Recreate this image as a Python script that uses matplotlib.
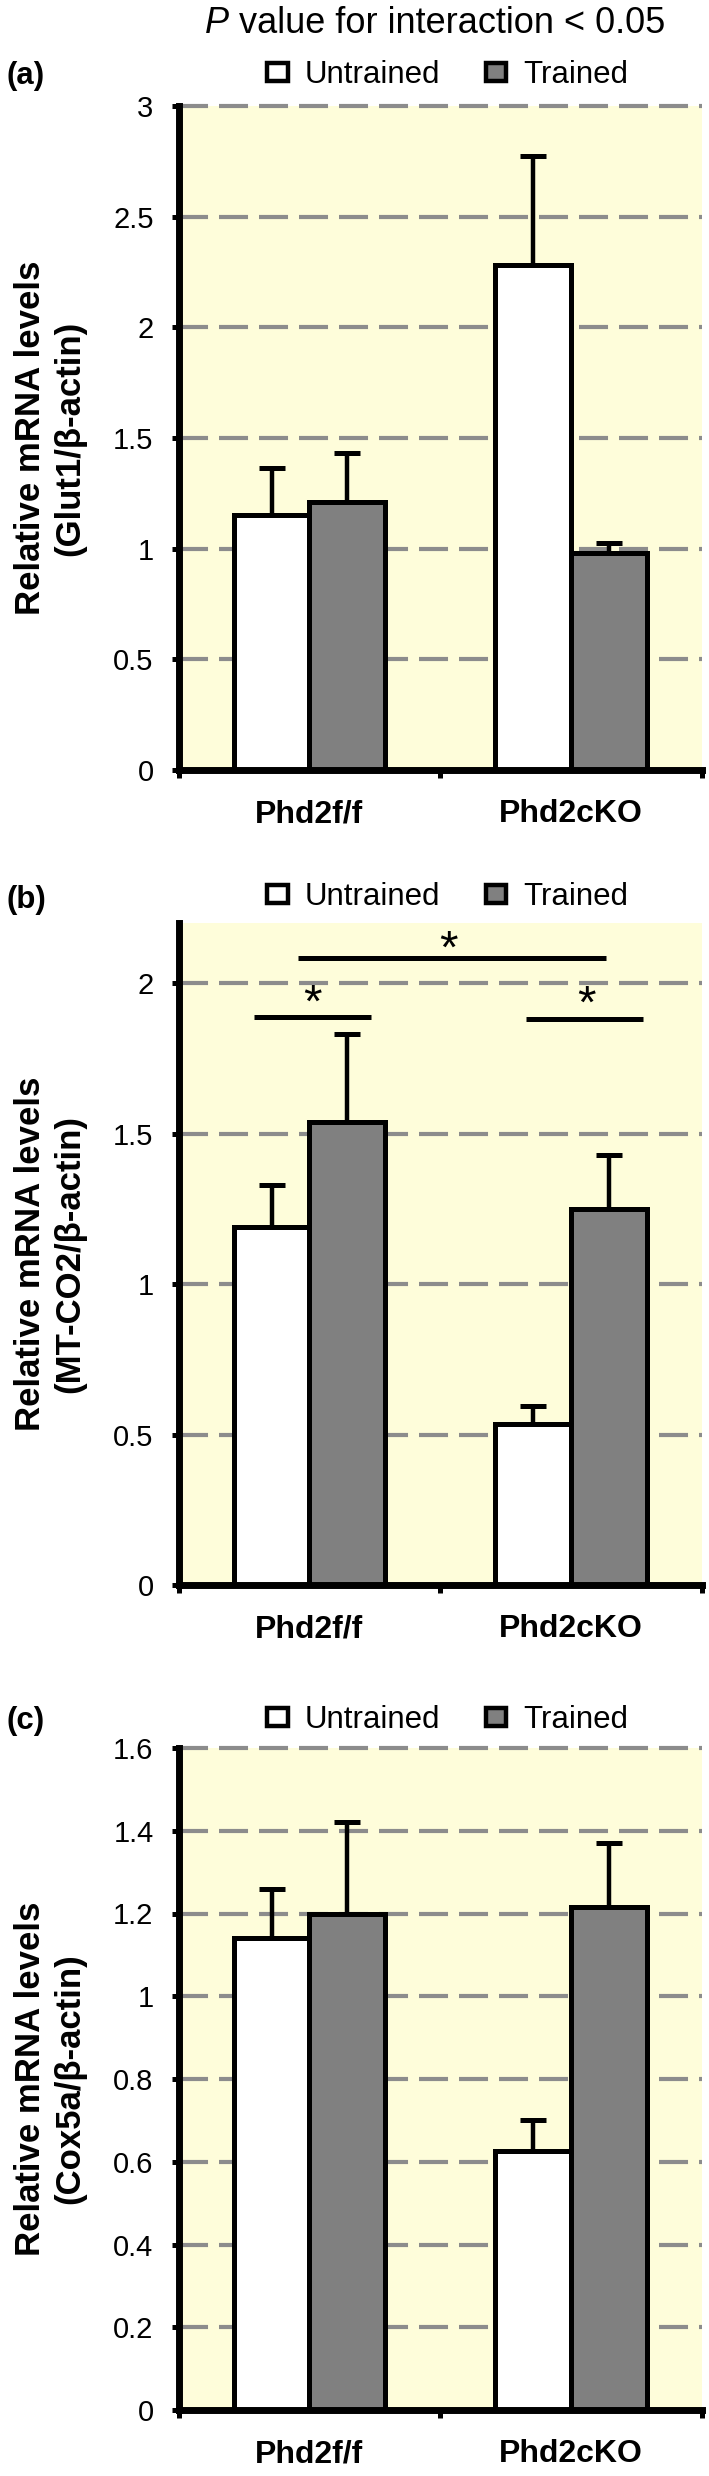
import matplotlib
matplotlib.use("Agg")
import matplotlib.pyplot as plt
from matplotlib.ticker import FuncFormatter
from matplotlib.patches import Patch

plt.rcParams['font.family'] = ['Liberation Sans', 'DejaVu Sans']

# ---------------- data ----------------
groups = ['Phd2f/f', 'Phd2cKO']
series_names = ['Untrained', 'Trained']

glut1_untrained = [1.15, 2.28]
glut1_untrained_err = [0.215, 0.495]
glut1_trained = [1.21, 0.98]
glut1_trained_err = [0.22, 0.045]

mtco2_untrained = [1.19, 0.535]
mtco2_untrained_err = [0.14, 0.06]
mtco2_trained = [1.54, 1.25]
mtco2_trained_err = [0.29, 0.18]

cox5a_untrained = [1.14, 0.625]
cox5a_untrained_err = [0.12, 0.077]
cox5a_trained = [1.20, 1.215]
cox5a_trained_err = [0.22, 0.155]

ylabels = ['Relative mRNA levels\n(Glut1/\u03b2-actin)',
           'Relative mRNA levels\n(MT-CO2/\u03b2-actin)',
           'Relative mRNA levels\n(Cox5a/\u03b2-actin)']
panel_letters = ['(a)', '(b)', '(c)']
y_limits = [3.0, 2.2, 1.6]
y_steps = [0.5, 0.5, 0.2]
y_tick_max = [3.0, 2.0, 1.6]

# significance brackets for panel (b): (x_start, x_end, y_line, x_star, y_star)
sig_x_start = [-0.044, -0.211, 0.828]
sig_x_end = [1.133, 0.235, 1.275]
sig_y = [2.084, 1.886, 1.882]
star_x = [0.533, 0.010, 1.057]
star_y = [2.16, 1.98, 1.975]

title_italic = 'P'
title_rest = ' value for interaction < 0.05'

# ---------------- style ----------------
W, H = 709, 2476
DPI = 100
BG = '#FEFDDA'
GRAY = '#808080'
GRID = '#8C8C8C'
bar_w = 0.29

fig = plt.figure(figsize=(W / DPI, H / DPI), dpi=DPI)
fig.patch.set_facecolor('white')

left_px, right_px = 178.6, 702.0
panels_px = [(106, 770), (923, 1585), (1748, 2410)]  # (top, bottom) in px
legend_y_px = [75, 897, 1720]
letter_y_px = [76, 900, 1721]

datasets = [
    (glut1_untrained, glut1_untrained_err, glut1_trained, glut1_trained_err),
    (mtco2_untrained, mtco2_untrained_err, mtco2_trained, mtco2_trained_err),
    (cox5a_untrained, cox5a_untrained_err, cox5a_trained, cox5a_trained_err),
]

px = 72.0 / DPI  # points per pixel

for i, (top, bot) in enumerate(panels_px):
    ax = fig.add_axes([left_px / W, 1 - bot / H, (right_px - left_px) / W, (bot - top) / H])
    ax.set_facecolor(BG)
    u, ue, t, te = datasets[i]
    xs = list(range(len(groups)))
    xu = [x - bar_w / 2 for x in xs]
    xt = [x + bar_w / 2 for x in xs]
    ax.bar(xu, u, width=bar_w, color='white', edgecolor='black', linewidth=3.6, zorder=3)
    ax.bar(xt, t, width=bar_w, color=GRAY, edgecolor='black', linewidth=3.6, zorder=3)
    ax.errorbar(xu, u, yerr=[[0] * len(u), ue], fmt='none', ecolor='black',
                elinewidth=3.2, capsize=9.7, capthick=3.6, zorder=2)
    ax.errorbar(xt, t, yerr=[[0] * len(t), te], fmt='none', ecolor='black',
                elinewidth=3.2, capsize=9.7, capthick=3.6, zorder=2)

    ax.set_xlim(-0.5, len(groups) - 0.5)
    ax.set_ylim(0, y_limits[i])
    step = y_steps[i]
    n = int(round(y_tick_max[i] / step))
    yt = [round(k * step, 3) for k in range(n + 1)]
    ax.set_yticks(yt)
    ax.yaxis.set_major_formatter(FuncFormatter(lambda v, p: '%g' % v))
    ax.tick_params(axis='y', direction='out', length=5, width=3.6, labelsize=21, pad=13)

    ax.set_xticks([-0.5, 0.5, 1.5])
    ax.set_xticklabels([])
    ax.set_xticks(xs, minor=True)
    ax.set_xticklabels(groups, minor=True, fontsize=23, fontweight='bold')
    ax.tick_params(axis='x', which='major', direction='out', length=6, width=3.6)
    ax.tick_params(axis='x', which='minor', length=0, pad=21)

    ax.set_axisbelow(True)
    lw = 3.0
    ax.yaxis.grid(True, color=GRID, linewidth=lw, linestyle=(0, (20.9 / lw, 7.9 / lw)))
    for gl in ax.get_ygridlines():
        gl.set_clip_on(False)
    # no gridline on the x-axis itself
    ax.get_ygridlines()[0].set_visible(False)

    for s in ['top', 'right']:
        ax.spines[s].set_visible(False)
    for s in ['left', 'bottom']:
        ax.spines[s].set_linewidth(5)
        ax.spines[s].set_zorder(5)

    # legend
    handles = [Patch(facecolor='white', edgecolor='black', linewidth=3.2),
               Patch(facecolor=GRAY, edgecolor='black', linewidth=3.2)]
    ly = 1 + (top - legend_y_px[i]) / (bot - top)
    ax.legend(handles, series_names, loc='center', bbox_to_anchor=(0.514, ly),
              ncol=2, frameon=False, fontsize=22.5, handlelength=0.65, handleheight=0.5,
              handletextpad=0.55, columnspacing=1.45, borderpad=0, borderaxespad=0)

    fig.text(7 / W, 1 - letter_y_px[i] / H, panel_letters[i], ha='left', va='center',
             fontsize=22.4, fontweight='bold')
    fig.text(50 / W, 1 - (top + bot) / 2 / H, ylabels[i], rotation=90, ha='center',
             va='center', multialignment='center', fontsize=25, fontweight='bold',
             linespacing=1.25)

    if i == 1:
        for xs0, xs1, yl, sx, sy in zip(sig_x_start, sig_x_end, sig_y, star_x, star_y):
            ax.plot([xs0, xs1], [yl, yl], color='black', linewidth=3.6,
                    solid_capstyle='butt', zorder=6, clip_on=False)
            fs = 34
            ax.annotate('*', xy=(sx, sy), xytext=(0, -0.58 * fs), textcoords='offset points',
                        ha='center', va='baseline', fontsize=fs, zorder=6)

# title
t1 = fig.text(205 / W, 1 - 33 / H, title_italic, ha='left', va='baseline',
              fontsize=26, style='italic')
fig.texts.remove(t1) if False else None
ann = plt.gcf().axes[0].annotate(title_rest, xy=(1, 0), xycoords=t1, ha='left', va='bottom',
                                 fontsize=26, annotation_clip=False)

fig.savefig('out.png', dpi=DPI, facecolor='white')
